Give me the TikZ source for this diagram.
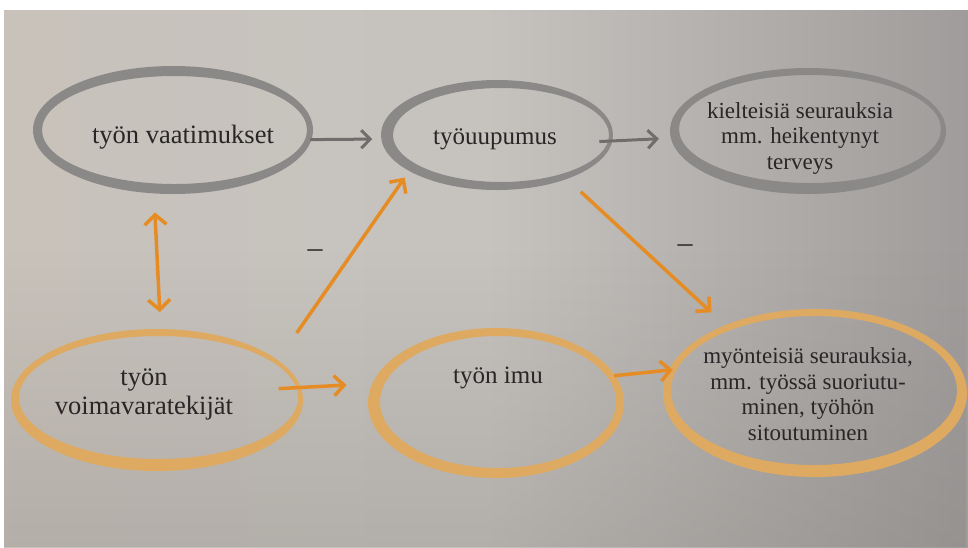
\documentclass[tikz,border=0pt]{standalone}
\usepackage{fontspec}
\setmainfont{Liberation Serif}
\usetikzlibrary{shapes.geometric,arrows.meta,calc,fadings}
\definecolor{bgL}{RGB}{200,194,187}
\definecolor{bgM}{RGB}{198,195,191}
\definecolor{bgR}{RGB}{160,156,155}
\definecolor{bgB}{RGB}{120,116,112}
\definecolor{brushG}{RGB}{138,137,136}
\definecolor{brushO}{RGB}{222,170,98}
\definecolor{arrO}{RGB}{230,140,36}
\definecolor{arrG}{RGB}{112,110,109}
\definecolor{ink}{RGB}{40,38,38}
\tikzfading[name=fadeupward, top color=transparent!100, bottom color=transparent!0]
% node, rx, ry, inner shrink x, inner shrink y, shift x, shift y, colour
\newcommand\brushring[8]{%
  \fill[#8, even odd rule] (#1.center) ellipse [x radius=#2+4, y radius=#3+4]
    ($(#1.center)+(#6,#7)$) ellipse [x radius=#2-#4, y radius=#3-#5];}
\begin{document}
\begin{tikzpicture}[x=1pt,y=-1pt,
  ell/.style={ellipse, inner sep=0pt, outer sep=3pt, draw=none},
  lblL/.style={font=\fontsize{26.5}{29}\selectfont, text=ink, align=center, inner sep=0pt},
  lblM/.style={font=\fontsize{25}{27}\selectfont, text=ink, align=center, inner sep=0pt},
  lblR/.style={font=\fontsize{23}{25.5}\selectfont, text=ink, align=center, inner sep=0pt},
  minussign/.style={font=\fontsize{30}{30}\selectfont, text=ink, inner sep=0pt},
  garrow/.style={draw=arrG, line width=3pt, -{Straight Barb[length=9pt,width=18pt]}},
  oarrow/.style={draw=arrO, line width=3.5pt, -{Straight Barb[length=10pt,width=20pt]}},
  oboth/.style={draw=arrO, line width=3.5pt, {Straight Barb[length=10pt,width=22pt]}-{Straight Barb[length=10pt,width=22pt]}}
]
\useasboundingbox (0,0) rectangle (968,547);
\fill[white] (0,0) rectangle (968,547);
\shade[left color=bgL, right color=bgR, middle color=bgM] (4,10) rectangle (968,547);
\fill[bgB, path fading=fadeupward, fill opacity=0.25] (4,250) rectangle (968,547);

% ellipses (invisible shapes, drawn as brush rings below)
\node[ell, minimum width=272pt, minimum height=120pt] (vaat) at (173,130) {};
\node[ell, minimum width=224pt, minimum height=102pt] (uup) at (497,135) {};
\node[ell, minimum width=268pt, minimum height=118pt] (kiel) at (808,131) {};
\node[ell, minimum width=284pt, minimum height=134pt] (voima) at (157,400) {};
\node[ell, minimum width=248pt, minimum height=142pt] (imu) at (496,403) {};
\node[ell, minimum width=296pt, minimum height=160pt] (myon) at (815,393) {};

\brushring{vaat}{136}{60}{3.5}{6}{1.5}{0}{brushG}
\brushring{uup}{112}{51}{4}{4}{4}{0}{brushG}
\brushring{kiel}{134}{59}{3}{5}{2}{-2}{brushG}
\brushring{voima}{142}{67}{2.5}{5.5}{1.5}{-2.5}{brushO}
\brushring{imu}{124}{71}{6}{5}{2}{-1}{brushO}
\brushring{myon}{148}{80}{5}{5.5}{-1}{-2.5}{brushO}

% texts
\node[lblL] (vaatT) at (183,137) {työn vaatimukset};
\node[lblM] (uupT) at (495,139) {työuupumus};
\node[lblR] (kielT) at (800,138) {kielteisiä seurauksia\\mm. heikentynyt\\terveys};
\node[lblL] (voimaT) at (144,394) {työn\\voimavaratekijät};
\node[lblM] (imuT) at (498,378) {työn imu};
\node[lblR] (myonT) at (808,394) {myönteisiä seurauksia,\\mm. työssä suoriutu-\\minen, työhön\\sitoutuminen};

% minus signs
\node[minussign] (m1) at (315,254) {–};
\node[minussign] (m2) at (685,249) {–};

% connectors
\draw[garrow, shorten >=10pt] (vaat.-4) -- (uup.182);
\draw[garrow, shorten <=-12pt, shorten >=13pt] (uup.-3) -- (kiel.183);
\draw[oboth, shorten <=20pt, shorten >=18pt] (vaat.253) -- (voima.87);
\draw[oarrow, shorten <=34pt, shorten >=9pt] (voima.18) -- (uup.202);
\draw[oarrow, shorten <=20pt, shorten >=20pt] (uup.-32) -- (myon.143);
\draw[oarrow, shorten <=-21pt, shorten >=27pt] (voima.5) -- (imu.171);
\draw[oarrow, shorten >=-3pt] (imu.13) -- (myon.171);
\end{tikzpicture}
\end{document}
